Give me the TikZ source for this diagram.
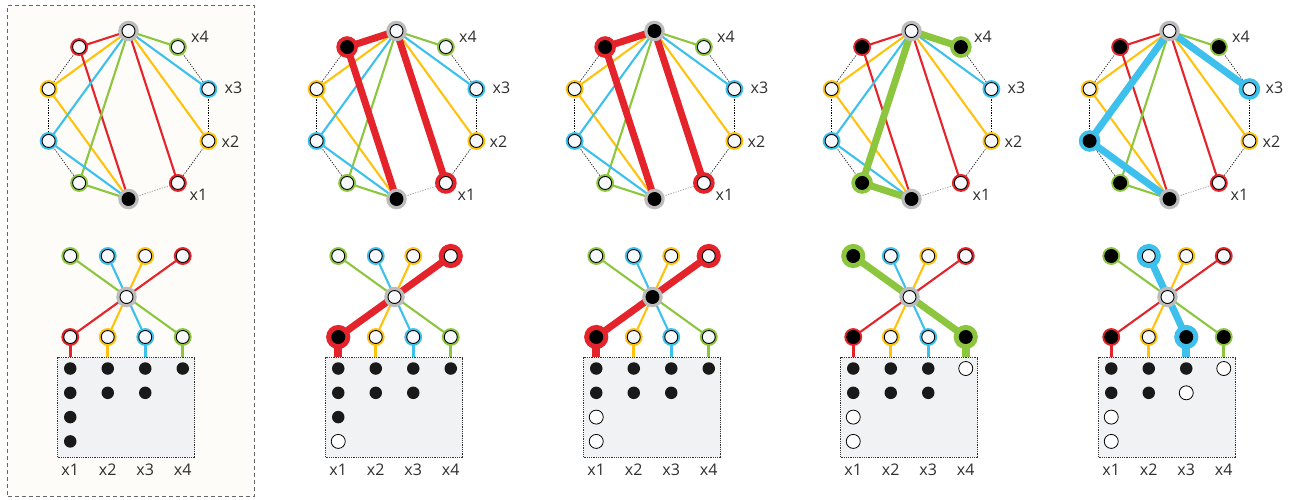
\documentclass[tikz,border=0pt]{standalone}
\usepackage{fontspec}
\setmainfont{Open Sans}
\usetikzlibrary{calc}
\pgfdeclarelayer{back}
\pgfdeclarelayer{bg}
\pgfsetlayers{back,bg,main}
\definecolor{cr}{HTML}{E4232A}
\definecolor{cy}{HTML}{FFC20F}
\definecolor{cb}{HTML}{3DC0EC}
\definecolor{cg}{HTML}{8CC63F}
\definecolor{cgray}{HTML}{BCBCBC}
\definecolor{vfill}{HTML}{F7F9FC}
\definecolor{boxfill}{HTML}{F1F2F4}
\definecolor{cream}{HTML}{FDFCF8}
\definecolor{txt}{HTML}{2E2E2E}
\definecolor{framec}{HTML}{666666}
\tikzset{
  vtx/.style={circle, inner sep=0pt, minimum size=13pt, draw=black, line width=0.9pt, fill=vfill, preaction={draw=#1, line width=4.8pt}},
  hvtx/.style={preaction={draw=#1, line width=8.5pt}},
  hbvtx/.style={preaction={draw=#1, line width=11pt}},
  gvtx/.style={vtx=cgray, preaction={draw=cgray, line width=7.4pt}},
  on/.style={fill=black},
  n-T/.style={}, n-A/.style={}, n-B/.style={}, n-C/.style={}, n-D/.style={},
  n-E/.style={}, n-F/.style={}, n-G/.style={}, n-H/.style={}, n-Z/.style={},
  n-U1/.style={}, n-U2/.style={}, n-U3/.style={}, n-U4/.style={},
  n-L1/.style={}, n-L2/.style={}, n-L3/.style={}, n-L4/.style={},
  thinE/.style={line width=2.1pt},
  thickE/.style={line width=7pt},
  thinS/.style={line width=2.8pt},
  thickS/.style={line width=8pt},
  ringline/.style={draw=black, line width=0.6pt, dash pattern=on 1.3pt off 1.3pt},
  boxst/.style={rectangle, draw=black!80, line width=0.7pt, dash pattern=on 1pt off 0.8pt, fill=boxfill, minimum width=137pt, minimum height=99.5pt, inner sep=0pt},
  dotB/.style={circle, fill=black!90, minimum size=12.5pt, inner sep=0pt},
  dotW/.style={circle, draw=black, line width=0.8pt, fill=white, minimum size=14pt, inner sep=0pt},
  lab/.style={text=txt, font=\fontsize{16}{19}\selectfont, inner sep=0pt},
  framest/.style={draw=framec, line width=0.9pt, dash pattern=on 4pt off 3pt, fill=cream},
}
\newcommand{\panelnodes}[3]{%
 \begin{scope}[shift={(#2,0)}]
  \node[gvtx, n-T] (#1T) at (0,31) {};
  \node[vtx=cr, n-A] (#1A) at (-49.37,47.04) {};
  \node[vtx=cy, n-B] (#1B) at (-79.89,89.04) {};
  \node[vtx=cb, n-C] (#1C) at (-79.89,140.96) {};
  \node[vtx=cg, n-D] (#1D) at (-49.37,182.96) {};
  \node[gvtx, on] (#1M) at (0,199) {};
  \node[vtx=cr, n-E] (#1E) at (49.37,182.96) {};
  \node[vtx=cy, n-F] (#1F) at (79.89,140.96) {};
  \node[vtx=cb, n-G] (#1G) at (79.89,89.04) {};
  \node[vtx=cg, n-H] (#1H) at (49.37,47.04) {};
  \node[lab] (#1x4) at (71.5,37) {x4};
  \node[lab] (#1x3) at (105,87.5) {x3};
  \node[lab] (#1x2) at (102,142) {x2};
  \node[lab] (#1x1) at (70,194.5) {x1};
  \node[gvtx, n-Z] (#1Z) at (-2,297) {};
  \node[vtx=cg, n-U1] (#1U1) at (-58.25,256) {};
  \node[vtx=cb, n-U2] (#1U2) at (-20.75,256) {};
  \node[vtx=cy, n-U3] (#1U3) at (16.75,256) {};
  \node[vtx=cr, n-U4] (#1U4) at (54.25,256) {};
  \node[vtx=cr, n-L1] (#1L1) at (-58.25,337) {};
  \node[vtx=cy, n-L2] (#1L2) at (-20.75,337) {};
  \node[vtx=cb, n-L3] (#1L3) at (16.75,337) {};
  \node[vtx=cg, n-L4] (#1L4) at (54.25,337) {};
  \node[boxst] (#1box) at (-2.5,407.25) {};
  \foreach \c/\r/\s in {#3} {\node[dot\s] (#1d\c\r) at ({-58.25+37.5*(\c-1)},{368.5+24.3*(\r-1)}) {};}
  \foreach \c in {1,...,4} {\node[lab] (#1c\c) at ({-58.25+37.5*(\c-1)},470) {x\c};}
 \end{scope}}
\newcommand{\ringdots}[1]{%
  \draw[ringline] (#1A.center) -- (#1B.center);
  \draw[ringline] (#1B.center) -- (#1C.center);
  \draw[ringline] (#1C.center) -- (#1D.center);
  \draw[ringline] (#1H.center) -- (#1G.center);
  \draw[ringline] (#1G.center) -- (#1F.center);
  \draw[ringline] (#1F.center) -- (#1E.center);
  \draw[ringline, draw=black!45] (#1E.center) -- (#1M.center);}
\newcommand{\grpred}[2]{%
  \draw[cr,#2E] (#1T.center) -- (#1A.center);
  \draw[cr,#2E] (#1M.center) -- (#1A.center);
  \draw[cr,#2E] (#1T.center) -- (#1E.center);
  \draw[cr,#2E] (#1U4.center) -- (#1L1.center);
  \draw[cr,#2S] (#1L1.center) -- (#1L1 |- #1box.north);}
\newcommand{\grpyellow}[2]{%
  \draw[cy,#2E] (#1T.center) -- (#1B.center);
  \draw[cy,#2E] (#1M.center) -- (#1B.center);
  \draw[cy,#2E] (#1T.center) -- (#1F.center);
  \draw[cy,#2E] (#1U3.center) -- (#1L2.center);
  \draw[cy,#2S] (#1L2.center) -- (#1L2 |- #1box.north);}
\newcommand{\grpblue}[2]{%
  \draw[cb,#2E] (#1T.center) -- (#1C.center);
  \draw[cb,#2E] (#1M.center) -- (#1C.center);
  \draw[cb,#2E] (#1T.center) -- (#1G.center);
  \draw[cb,#2E] (#1U2.center) -- (#1L3.center);
  \draw[cb,#2S] (#1L3.center) -- (#1L3 |- #1box.north);}
\newcommand{\grpgreen}[2]{%
  \draw[cg,#2E] (#1T.center) -- (#1D.center);
  \draw[cg,#2E] (#1M.center) -- (#1D.center);
  \draw[cg,#2E] (#1T.center) -- (#1H.center);
  \draw[cg,#2E] (#1U1.center) -- (#1L4.center);
  \draw[cg,#2S] (#1L4.center) -- (#1L4 |- #1box.north);}
\begin{document}
\begin{tikzpicture}[x=1pt,y=-1pt]
\useasboundingbox (0,0) rectangle (1291,499);
\begin{pgfonlayer}{back}
  \node[framest, rectangle, minimum width=246.5pt, minimum height=491pt, inner sep=0pt] (frame) at (131,250.5) {};
\end{pgfonlayer}
% Panel 1
\begin{scope}
\panelnodes{P1}{128.5}{1/1/B,1/2/B,1/3/B,1/4/B,2/1/B,2/2/B,3/1/B,3/2/B,4/1/B}
\begin{pgfonlayer}{bg}
\ringdots{P1}\grpyellow{P1}{thin}\grpred{P1}{thin}\grpgreen{P1}{thin}\grpblue{P1}{thin}
\end{pgfonlayer}
\end{scope}
% Panel 2
\begin{scope}
\tikzset{n-A/.style={hvtx=cr,on}, n-E/.style={hvtx=cr}, n-U4/.style={hbvtx=cr}, n-L1/.style={hbvtx=cr,on}}
\panelnodes{P2}{396.5}{1/1/B,1/2/B,1/3/B,1/4/W,2/1/B,2/2/B,3/1/B,3/2/B,4/1/B}
\begin{pgfonlayer}{bg}
\ringdots{P2}\grpyellow{P2}{thin}\grpgreen{P2}{thin}\grpblue{P2}{thin}\grpred{P2}{thick}
\end{pgfonlayer}
\end{scope}
% Panel 3
\begin{scope}
\tikzset{n-T/.style={on}, n-Z/.style={on}, n-A/.style={hvtx=cr,on}, n-E/.style={hvtx=cr}, n-U4/.style={hbvtx=cr}, n-L1/.style={hbvtx=cr,on}}
\panelnodes{P3}{654.5}{1/1/B,1/2/B,1/3/W,1/4/W,2/1/B,2/2/B,3/1/B,3/2/B,4/1/B}
\begin{pgfonlayer}{bg}
\ringdots{P3}\grpyellow{P3}{thin}\grpgreen{P3}{thin}\grpblue{P3}{thin}\grpred{P3}{thick}
\end{pgfonlayer}
\end{scope}
% Panel 4
\begin{scope}
\tikzset{n-A/.style={on}, n-H/.style={hvtx=cg,on}, n-D/.style={hvtx=cg,on}, n-U1/.style={hbvtx=cg,on}, n-L4/.style={hbvtx=cg,on}, n-L1/.style={on}}
\panelnodes{P4}{911.5}{1/1/B,1/2/B,1/3/W,1/4/W,2/1/B,2/2/B,3/1/B,3/2/B,4/1/W}
\begin{pgfonlayer}{bg}
\ringdots{P4}\grpyellow{P4}{thin}\grpred{P4}{thin}\grpblue{P4}{thin}\grpgreen{P4}{thick}
\end{pgfonlayer}
\end{scope}
% Panel 5
\begin{scope}
\tikzset{n-A/.style={on}, n-H/.style={on}, n-D/.style={on}, n-C/.style={hvtx=cb,on}, n-G/.style={hvtx=cb}, n-U1/.style={on}, n-U2/.style={hbvtx=cb}, n-L1/.style={on}, n-L3/.style={hbvtx=cb,on}, n-L4/.style={on}}
\panelnodes{P5}{1169.5}{1/1/B,1/2/B,1/3/W,1/4/W,2/1/B,2/2/B,3/1/B,3/2/W,4/1/W}
\begin{pgfonlayer}{bg}
\ringdots{P5}\grpyellow{P5}{thin}\grpred{P5}{thin}\grpgreen{P5}{thin}\grpblue{P5}{thick}
\end{pgfonlayer}
\end{scope}
\end{tikzpicture}
\end{document}
